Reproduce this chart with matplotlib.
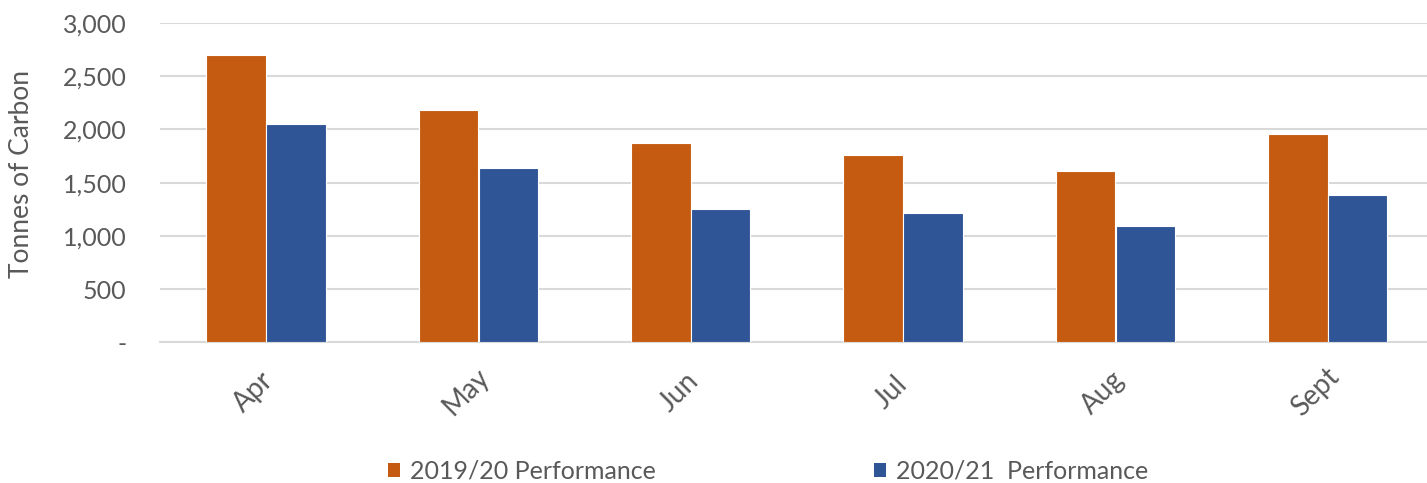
import matplotlib
matplotlib.use("Agg")
import matplotlib.pyplot as plt
from matplotlib.patches import Patch
import matplotlib.transforms as mtransforms
import numpy as np

months = ["Apr", "May", "Jun", "Jul", "Aug", "Sept"]
perf_1920 = [2700, 2185, 1870, 1757, 1607, 1954]
perf_2021 = [2050, 1635, 1255, 1215, 1096, 1387]
series_names = ["2019/20 Performance", "2020/21  Performance"]
yticks = [0, 500, 1000, 1500, 2000, 2500, 3000]
ytick_labels = ["-", "500", "1,000", "1,500", "2,000", "2,500", "3,000"]

ORANGE = "#C55A11"
BLUE = "#2F5597"
TEXT = "#595959"
GRID = "#D9D9D9"

plt.rcParams['font.family'] = ['Lato', 'DejaVu Sans']

W, H = 1427, 483
fig = plt.figure(figsize=(W / 100, H / 100), dpi=100)
left_px, right_px = 159.8, 1434
top_px, bot_px = 23, 342.3
ax = fig.add_axes([left_px / W, 1 - bot_px / H, (right_px - left_px) / W, (bot_px - top_px) / H])

x = np.arange(len(months))
bw = 0.28
off = 0.141
ax.bar(x - off, perf_1920, width=bw, color=ORANGE, edgecolor="white", linewidth=0.8, zorder=3)
ax.bar(x + off, perf_2021, width=bw, color=BLUE, edgecolor="white", linewidth=0.8, zorder=3)

ax.set_xlim(-0.5, len(months) - 0.5)
ax.set_ylim(0, 3000)
ax.set_yticks(yticks)
ax.set_yticklabels(ytick_labels)
ax.yaxis.grid(True, color=GRID, linewidth=1.5, zorder=0)
ax.set_axisbelow(True)
for s in ["top", "right", "left"]:
    ax.spines[s].set_visible(False)
ax.spines["bottom"].set_color(GRID)
ax.spines["bottom"].set_linewidth(1.5)
ax.tick_params(axis="both", length=0, colors=TEXT, labelsize=18)
ax.tick_params(axis="y", pad=24)

ax.set_xticks(x)
ax.set_xticklabels(months, rotation=45, ha="center", va="center", fontsize=20)
ax.tick_params(axis="x", pad=36)
shift = mtransforms.ScaledTranslation(-12 / 100, 0, fig.dpi_scale_trans)
for lab in ax.get_xticklabels():
    lab.set_transform(lab.get_transform() + shift)

fig.text(22 / W, 1 - 174 / H, "Tonnes of Carbon", rotation=90, ha="center", va="center",
         color=TEXT, fontsize=19)

handles = [Patch(facecolor=ORANGE, edgecolor="none"), Patch(facecolor=BLUE, edgecolor="none")]
leg = fig.legend(handles, series_names, loc="center", bbox_to_anchor=(768 / W, 1 - 471 / H),
                 ncol=2, frameon=False, fontsize=18, handlelength=0.5, handleheight=0.5,
                 handletextpad=0.4, columnspacing=8.7, borderpad=0, borderaxespad=0)
for t in leg.get_texts():
    t.set_color(TEXT)

fig.savefig("out.png", dpi=100)
